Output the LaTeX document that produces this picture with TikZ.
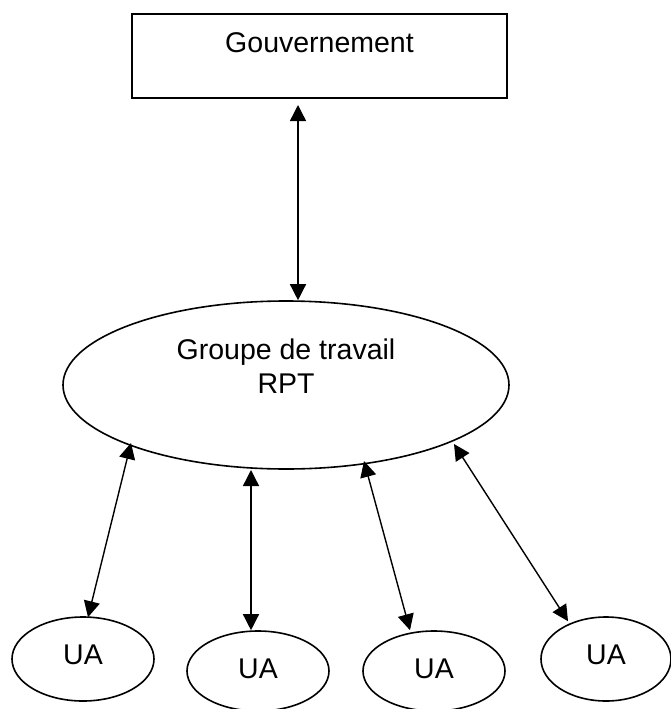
\documentclass[tikz,border=0pt]{standalone}
\usepackage{fontspec}
\setmainfont{Liberation Sans}
\usetikzlibrary{arrows.meta,shapes.geometric,calc}
\begin{document}
\begin{tikzpicture}[x=1pt,y=-1pt,
  txt/.style={font=\fontsize{28.5}{34}\selectfont},
  govbox/.style={draw, line width=2pt, minimum width=375pt, minimum height=84pt, inner sep=0pt},
  bigell/.style={draw, ellipse, line width=1.6pt, minimum width=446pt, minimum height=168pt, inner sep=0pt},
  uaell/.style={draw, ellipse, line width=1.6pt, inner sep=0pt},
  link/.style={line width=1.4pt, {Triangle[length=16pt,width=16pt]}-{Triangle[length=16pt,width=16pt]}}
]
\useasboundingbox (0,0) rectangle (671,709);
\node[govbox, label={[txt, yshift=13.5pt]center:Gouvernement}] (gov) at (319.5,56) {};
\node[bigell, label={[txt, align=center, yshift=18.5pt]center:{Groupe de travail\\RPT}}] (rpt) at (286,385) {};
\node[uaell, minimum width=142pt, minimum height=84pt, label={[txt,yshift=4pt]center:UA}] (ua1) at (83,659) {};
\node[uaell, minimum width=142pt, minimum height=80pt, label={[txt,yshift=2pt]center:UA}] (ua2) at (258,671) {};
\node[uaell, minimum width=142pt, minimum height=80pt, label={[txt,yshift=2pt]center:UA}] (ua3) at (434,671) {};
\node[uaell, minimum width=130pt, minimum height=84pt, label={[txt,yshift=4pt]center:UA}] (ua4) at (606,659) {};
\draw[link] ($(gov.south)+(-21.5,6)$) -- ($(rpt.north)+(12,0)$);
\draw[link] ($(rpt.center)+(-155,58)$) -- ($(ua1.north)+(5,1)$);
\draw[link] ($(rpt.center)+(-35,85)$) -- ($(ua2.north)+(-7,0)$);
\draw[link] ($(rpt.center)+(78,76)$) -- ($(ua3.north)+(-24,0)$);
\draw[link] ($(rpt.center)+(168,59)$) -- ($(ua4.north)+(-38,5)$);
\end{tikzpicture}
\end{document}
